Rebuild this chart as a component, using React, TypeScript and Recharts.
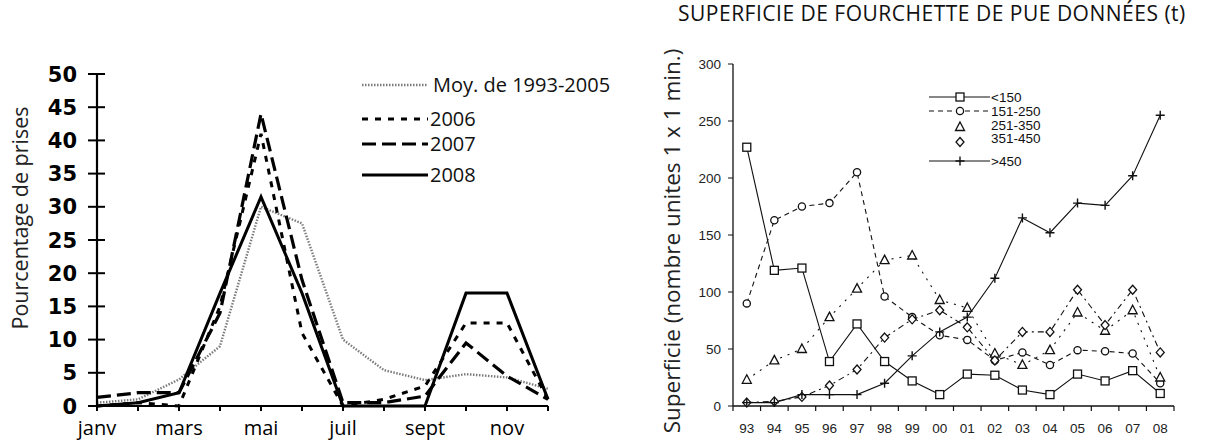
import React from 'react';
import { LineChart, Line, XAxis, YAxis, Legend } from 'recharts';

// ---- left chart: monthly catch share ----
const months = ['janv', 'févr', 'mars', 'avr', 'mai', 'juin', 'juil', 'août', 'sept', 'oct', 'nov', 'déc'];
const monthTickLabels = ['janv', '', 'mars', '', 'mai', '', 'juil', '', 'sept', '', 'nov', ''];
const pctTicks = [0, 5, 10, 15, 20, 25, 30, 35, 40, 45, 50];
const moy9305 = [0.5, 1, 4, 9, 30, 27.5, 10, 5.4, 3.9, 4.8, 4.3, 2.6];
const y2006 = [0, 0.5, 0, 15, 41, 11, 0, 1, 3, 12.5, 12.5, 1];
const y2007 = [1.3, 2, 2, 14, 44, 19, 0.5, 0.5, 1.5, 9.5, 4.5, 1];
const y2008 = [0, 0.5, 2, 17, 31.5, 17, 0, 0, 0, 17, 17, 1];

// ---- right chart: area by catch-rate class ----
const years = ['93', '94', '95', '96', '97', '98', '99', '00', '01', '02', '03', '04', '05', '06', '07', '08'];
const areaTicks = [0, 50, 100, 150, 200, 250, 300];
const lt150 = [227, 119, 121, 39, 72, 39, 22, 10, 28, 27, 14, 10, 28, 22, 31, 11];
const c151_250 = [90, 163, 175, 178, 205, 96, 78, 62, 58, 40, 47, 36, 49, 48, 46, 20];
const c251_350 = [23, 40, 50, 78, 103, 128, 132, 93, 86, 46, 36, 49, 82, 66, 84, 25];
const c351_450 = [3, 4, 8, 18, 32, 60, 76, 84, 69, 40, 65, 65, 102, 71, 102, 47];
const gt450 = [3, 3, 10, 10, 10, 20, 44, 65, 78, 112, 165, 152, 178, 176, 202, 255];

const SANS = '"Open Sans", "DejaVu Sans", sans-serif';
const ARIAL = '"Liberation Sans", Arial, sans-serif';

const leftSeries = [
  { key: 'moy', name: 'Moy. de 1993-2005', values: moy9305, color: '#7a7a7a', width: 2.4, dash: '1.5 1.5' },
  { key: 's2006', name: '2006', values: y2006, color: '#000', width: 3, dash: '6 7' },
  { key: 's2007', name: '2007', values: y2007, color: '#000', width: 3.2, dash: '14 6' },
  { key: 's2008', name: '2008', values: y2008, color: '#000', width: 3, dash: undefined as string | undefined },
];

const rightSeries = [
  { key: 'a', name: '<150', values: lt150, dash: undefined as string | undefined, shape: 'square', line: true },
  { key: 'b', name: '151-250', values: c151_250, dash: '5 4', shape: 'circle', line: true },
  { key: 'c', name: '251-350', values: c251_350, dash: '2 6', shape: 'triangle', line: false },
  { key: 'd', name: '351-450', values: c351_450, dash: '6 4 2 4', shape: 'diamond', line: false },
  { key: 'e', name: '>450', values: gt450, dash: undefined as string | undefined, shape: 'plus', line: true },
];

const monthData = months.map((m, i) => {
  const row: any = { month: m };
  leftSeries.forEach((s) => (row[s.key] = s.values[i]));
  return row;
});

const yearData = years.map((y, i) => {
  const row: any = { year: y };
  rightSeries.forEach((s) => (row[s.key] = s.values[i]));
  return row;
});

const RIGHT_PLOT_W = 441;
const HALF_BAND = RIGHT_PLOT_W / years.length / 2;

const LeftYTick = ({ x, y, payload }: any) => (
  <g>
    <line x1={x + 11} x2={x + 28} y1={y} y2={y} stroke="#000" strokeWidth={2} />
    <text x={x} y={y} dy={7.5} textAnchor="end" fontFamily='"DejaVu Sans", sans-serif' fontSize={21} fontWeight="bold" fill="#000">
      {payload.value}
    </text>
  </g>
);

const YearTick = ({ x, y, payload, index }: any) => (
  <g>
    <line x1={x - HALF_BAND} x2={x - HALF_BAND} y1={y} y2={y + 5} stroke="#111" strokeWidth={1.2} />
    {index === years.length - 1 && (
      <line x1={x + HALF_BAND} x2={x + HALF_BAND} y1={y} y2={y + 5} stroke="#111" strokeWidth={1.2} />
    )}
    <text x={x} y={y + 27} textAnchor="middle" fontFamily={ARIAL} fontSize={13.5} fill="#222">
      {payload.value}
    </text>
  </g>
);

const Marker = ({ cx, cy, shape }: { cx: number; cy: number; shape: string }) => {
  const st = { fill: '#fff', stroke: '#111', strokeWidth: 1.3 };
  if (shape === 'square') return <rect x={cx - 4} y={cy - 4} width={8} height={8} {...st} />;
  if (shape === 'circle') return <circle cx={cx} cy={cy} r={3.6} {...st} />;
  if (shape === 'triangle')
    return <path d={`M${cx},${cy - 5} L${cx + 4.5},${cy + 3.5} L${cx - 4.5},${cy + 3.5} Z`} {...st} />;
  if (shape === 'diamond')
    return <path d={`M${cx},${cy - 4.5} L${cx + 4},${cy} L${cx},${cy + 4.5} L${cx - 4},${cy} Z`} {...st} />;
  return <path d={`M${cx - 4.5},${cy} H${cx + 4.5} M${cx},${cy - 4.5} V${cy + 4.5}`} stroke="#111" strokeWidth={1.4} />;
};

const LeftLegend = () => {
  const rowY = [15, 49, 74, 105];
  return (
    <svg width={270} height={120} style={{ overflow: 'visible' }}>
      {leftSeries.map((s, i) => (
        <g key={s.key}>
          <line x1={7} x2={73} y1={rowY[i]} y2={rowY[i]} stroke={s.color} strokeWidth={s.width} strokeDasharray={s.dash} />
          <text x={i === 0 ? 78 : 75} y={rowY[i]} dy={7} fontFamily={SANS} fontSize={20} fill="#111">
            {s.name}
          </text>
        </g>
      ))}
    </svg>
  );
};

const RightLegend = () => {
  const rowY = [33, 47, 61, 74, 97];
  const markY = [33, 47, 63, 78, 97];
  return (
    <svg width={160} height={110} style={{ overflow: 'visible' }}>
      {rightSeries.map((s, i) => (
        <g key={s.key}>
          {s.line && (
            <line x1={9} x2={70} y1={rowY[i]} y2={rowY[i]} stroke="#111" strokeWidth={1.1} strokeDasharray={s.dash} />
          )}
          <Marker cx={40} cy={markY[i]} shape={s.shape} />
          <text x={71} y={rowY[i]} dy={4.5} fontFamily={ARIAL} fontSize={13.5} fill="#111">
            {s.name}
          </text>
        </g>
      ))}
    </svg>
  );
};

export default function App() {
  return (
    <div style={{ position: 'absolute', left: 0, top: 0, width: 1207, height: 440, background: '#fff', fontFamily: SANS }}>
      <div style={{ position: 'absolute', left: 0, top: 0 }}>
        <LineChart width={600} height={440} data={monthData} margin={{ top: 74, right: 52, left: 0, bottom: 0 }}>
          <XAxis
            dataKey="month"
            interval={0}
            height={34}
            tickSize={5}
            tickMargin={10}
            tickLine={{ stroke: '#000', strokeWidth: 2 }}
            axisLine={{ stroke: '#000', strokeWidth: 2.2 }}
            tick={{ fontSize: 20, fill: '#000', fontFamily: SANS }}
            tickFormatter={(v: any, i: number) => monthTickLabels[i]}
          />
          <YAxis
            domain={[0, 50]}
            ticks={pctTicks}
            width={97}
            tickSize={0}
            tickMargin={20}
            tickLine={false}
            interval={0}
            axisLine={{ stroke: '#000', strokeWidth: 2.2 }}
            tick={<LeftYTick />}
          />
          <Legend
            layout="vertical"
            align="center"
            verticalAlign="middle"
            content={<LeftLegend />}
            wrapperStyle={{ position: 'absolute', left: 355, top: 70, width: 270 }}
          />
          {leftSeries.map((s) => (
            <Line
              key={s.key}
              dataKey={s.key}
              name={s.name}
              type="linear"
              stroke={s.color}
              strokeWidth={s.width}
              strokeDasharray={s.dash}
              dot={false}
              isAnimationActive={false}
            />
          ))}
        </LineChart>
      </div>

      <div style={{ position: 'absolute', left: 620, top: 0 }}>
        <LineChart width={587} height={440} data={yearData} margin={{ top: 64, right: 33, left: 0, bottom: 0 }}>
          <XAxis
            dataKey="year"
            interval={0}
            height={34}
            padding={{ left: HALF_BAND, right: HALF_BAND }}
            tickSize={0}
            tickMargin={0}
            tickLine={false}
            axisLine={{ stroke: '#111', strokeWidth: 1.3 }}
            tick={<YearTick />}
          />
          <XAxis
            xAxisId="top"
            dataKey="year"
            orientation="top"
            height={0}
            tick={false}
            tickLine={false}
            axisLine={{ stroke: '#111', strokeWidth: 1.3 }}
          />
          <YAxis
            domain={[0, 300]}
            ticks={areaTicks}
            width={113}
            interval={0}
            tickSize={5}
            tickMargin={7}
            tickLine={{ stroke: '#111' }}
            axisLine={{ stroke: '#111', strokeWidth: 1.3 }}
            tick={{ fontSize: 13.5, fill: '#222', fontFamily: ARIAL }}
          />
          <YAxis
            yAxisId="frame"
            orientation="right"
            domain={[0, 300]}
            width={0}
            tick={false}
            tickLine={false}
            axisLine={{ stroke: '#111', strokeWidth: 1.3 }}
          />
          <Legend
            layout="vertical"
            align="center"
            verticalAlign="middle"
            content={<RightLegend />}
            wrapperStyle={{ position: 'absolute', left: 300, top: 64, width: 160 }}
          />
          {rightSeries.map((s) => (
            <Line
              key={s.key}
              dataKey={s.key}
              name={s.name}
              type="linear"
              stroke="#111"
              strokeWidth={1.1}
              strokeDasharray={s.dash}
              dot={(p: any) => <Marker key={`${s.key}-${p.index}`} cx={p.cx} cy={p.cy} shape={s.shape} />}
              isAnimationActive={false}
            />
          ))}
        </LineChart>
      </div>

      <svg width={1207} height={440} style={{ position: 'absolute', left: 0, top: 0, pointerEvents: 'none' }}>
        <text x={678} y={21} fontFamily={SANS} fontSize={21} letterSpacing={0.5} fill="#111">
          SUPERFICIE DE FOURCHETTE DE PUE DONNÉES (t)
        </text>
        <text transform="translate(28,218) rotate(-90)" textAnchor="middle" fontFamily={SANS} fontSize={21.5} fill="#222">
          Pourcentage de prises
        </text>
        <text transform="translate(680,241) rotate(-90)" textAnchor="middle" fontFamily={SANS} fontSize={22.5} fill="#222">
          Superficie (nombre unites 1 x 1 min.)
        </text>
      </svg>
    </div>
  );
}
